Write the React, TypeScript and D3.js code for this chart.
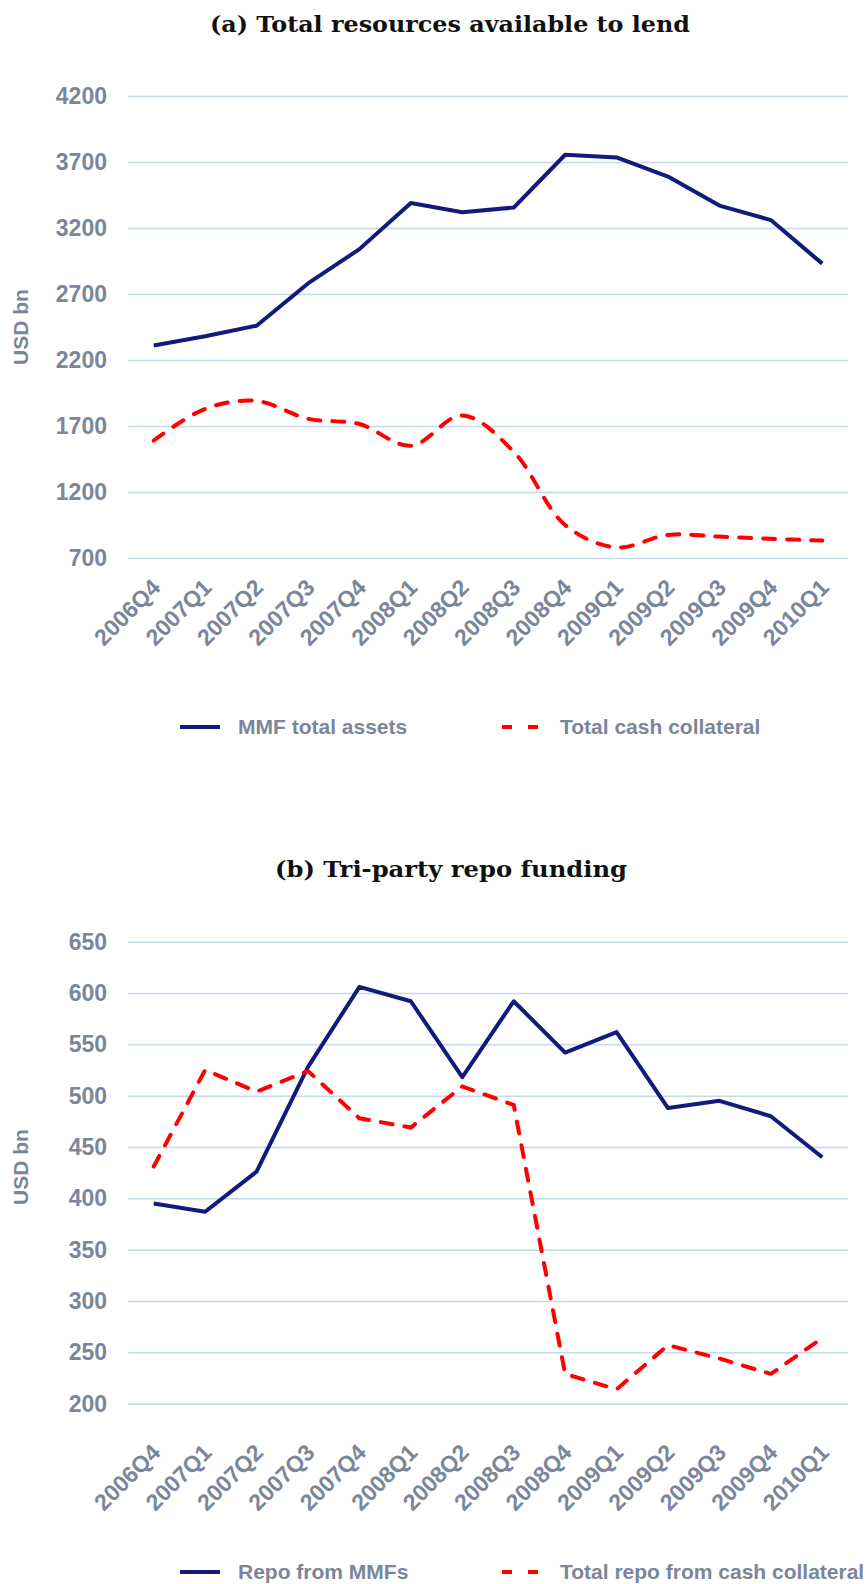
import * as d3 from "d3";
import { useEffect, useRef } from "react";

const quarters = [
  "2006Q4", "2007Q1", "2007Q2", "2007Q3", "2007Q4", "2008Q1", "2008Q2",
  "2008Q3", "2008Q4", "2009Q1", "2009Q2", "2009Q3", "2009Q4", "2010Q1",
];

// panel (a), USD bn
const mmfTotalAssets = [2310, 2380, 2460, 2780, 3040, 3390, 3320, 3355, 3755, 3735, 3590, 3370, 3260, 2930];
const totalCashCollateral = [1590, 1830, 1890, 1755, 1715, 1550, 1780, 1505, 950, 780, 875, 862, 845, 832];
const ticksA = [700, 1200, 1700, 2200, 2700, 3200, 3700, 4200];

// panel (b), USD bn
const repoFromMMFs = [395, 387, 426, 528, 606, 592, 518, 592, 542, 562, 488, 495, 480, 440];
const totalRepoFromCash = [431, 525, 504, 524, 478, 469, 509, 491, 229, 214, 257, 244, 229, 264];
const ticksB = [200, 250, 300, 350, 400, 450, 500, 550, 600, 650];

const NAVY = "#121a7c";
const RED = "#ff0000";
const GREY = "#7b869a";
const GRID = "#c6d7f0";
const SANS = "'Liberation Sans', Arial, sans-serif";
const SERIF = "'DejaVu Serif', serif";

interface PanelSpec {
  title: string;
  titleY: number;
  titleX: number;
  titleLen: number;
  ticks: number[];
  top: number;
  bottom: number;
  solid: number[];
  dashed: number[];
  dashedCurve: d3.CurveFactory;
  unitY: number;
  labelY: number;
  legendY: number;
  legendNames: [string, string];
}

const panels: PanelSpec[] = [
  {
    title: "(a) Total resources available to lend",
    titleX: 210, titleY: 32, titleLen: 480,
    ticks: ticksA, top: 96, bottom: 558,
    solid: mmfTotalAssets, dashed: totalCashCollateral,
    dashedCurve: d3.curveCatmullRom.alpha(0.5),
    unitY: 327, labelY: 589, legendY: 727,
    legendNames: ["MMF total assets", "Total cash collateral"],
  },
  {
    title: "(b) Tri-party repo funding",
    titleX: 275, titleY: 877, titleLen: 352,
    ticks: ticksB, top: 941.7, bottom: 1403.7,
    solid: repoFromMMFs, dashed: totalRepoFromCash,
    dashedCurve: d3.curveLinear,
    unitY: 1167, labelY: 1454, legendY: 1572,
    legendNames: ["Repo from MMFs", "Total repo from cash collateral"],
  },
];

export default function App() {
  const ref = useRef<SVGSVGElement>(null);

  useEffect(() => {
    const svg = d3.select(ref.current);
    svg.selectAll("*").remove();

    const x = d3.scalePoint<string>().domain(quarters).range([128, 848]).padding(0.5);

    panels.forEach((p) => {
      const g = svg.append("g");
      const y = d3
        .scaleLinear()
        .domain([p.ticks[0], p.ticks[p.ticks.length - 1]])
        .range([p.bottom, p.top]);

      g.append("text")
        .attr("x", p.titleX)
        .attr("y", p.titleY)
        .attr("textLength", p.titleLen)
        .attr("lengthAdjust", "spacingAndGlyphs")
        .style("font-family", SERIF)
        .style("font-weight", "bold")
        .style("font-size", "22px")
        .attr("fill", "#111")
        .text(p.title);

      // gridlines + y labels
      const yAxis = d3
        .axisLeft(y)
        .tickValues(p.ticks)
        .tickSize(-720)
        .tickPadding(21)
        .tickFormat(d3.format("d"));
      const ya = g.append("g").attr("transform", "translate(128,0)").call(yAxis);
      ya.select(".domain").remove();
      ya.selectAll(".tick line").attr("stroke", GRID).attr("stroke-width", 1.5);
      ya.selectAll(".tick text")
        .attr("fill", GREY)
        .style("font-family", SANS)
        .style("font-weight", "bold")
        .style("font-size", "23px");

      g.append("text")
        .attr("transform", `translate(28,${p.unitY}) rotate(-90)`)
        .attr("text-anchor", "middle")
        .attr("fill", GREY)
        .style("font-family", SANS)
        .style("font-weight", "bold")
        .style("font-size", "21px")
        .text("USD bn");

      // x labels
      g.selectAll(".xl")
        .data(quarters)
        .enter()
        .append("text")
        .attr("class", "xl")
        .attr("transform", (d) => `translate(${(x(d) ?? 0) + 8},${p.labelY}) rotate(-45)`)
        .attr("text-anchor", "end")
        .attr("fill", GREY)
        .style("font-family", SANS)
        .style("font-weight", "bold")
        .style("font-size", "23px")
        .text((d) => d);

      const solidLine = d3
        .line<number>()
        .x((_, i) => x(quarters[i]) ?? 0)
        .y((d) => y(d));
      const dashedLine = d3
        .line<number>()
        .x((_, i) => x(quarters[i]) ?? 0)
        .y((d) => y(d))
        .curve(p.dashedCurve);

      g.append("path")
        .attr("d", solidLine(p.solid))
        .attr("fill", "none")
        .attr("stroke", NAVY)
        .attr("stroke-width", 4)
        .attr("stroke-linejoin", "round");

      g.append("path")
        .attr("d", dashedLine(p.dashed))
        .attr("fill", "none")
        .attr("stroke", RED)
        .attr("stroke-width", 4)
        .attr("stroke-dasharray", "12,12")
        .attr("stroke-linecap", "round");

      // legend
      const lg = g.append("g").attr("transform", `translate(0,${p.legendY})`);
      lg.append("line")
        .attr("x1", 180).attr("x2", 220)
        .attr("stroke", NAVY).attr("stroke-width", 4);
      lg.append("line")
        .attr("x1", 502).attr("x2", 538)
        .attr("stroke", RED).attr("stroke-width", 4)
        .attr("stroke-dasharray", "10,16");
      [238, 560].forEach((lx, i) => {
        lg.append("text")
          .attr("x", lx)
          .attr("y", 7)
          .attr("fill", GREY)
          .style("font-family", SANS)
          .style("font-weight", "bold")
          .style("font-size", "21px")
          .text(p.legendNames[i]);
      });
    });
  }, []);

  return (
    <svg
      ref={ref}
      width={867}
      height={1584}
      style={{ position: "absolute", left: 0, top: 0, background: "#fff" }}
    />
  );
}
